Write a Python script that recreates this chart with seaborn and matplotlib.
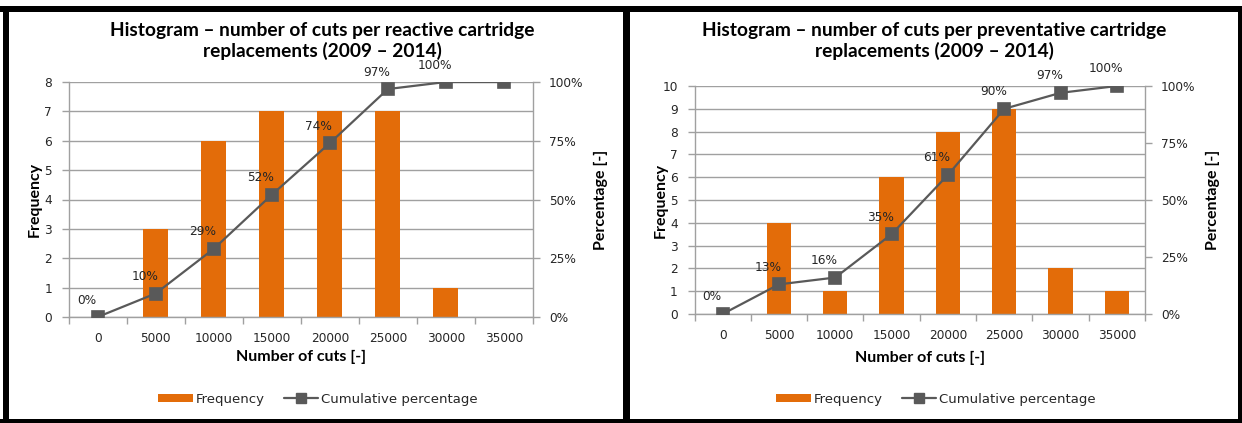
import matplotlib
matplotlib.use("Agg")
import matplotlib.pyplot as plt
import numpy as np
import pandas as pd
import seaborn as sns
from matplotlib.patches import Rectangle, Patch
from matplotlib.lines import Line2D

# Histogram bins (number of cuts) shared by both charts
cuts = [0, 5000, 10000, 15000, 20000, 25000, 30000, 35000]

# Reactive cartridge replacements
reactive_freq = [0, 3, 6, 7, 7, 7, 1, 0]
reactive_cum = [0, 10, 29, 52, 74, 97, 100, 100]

# Preventative cartridge replacements
preventive_freq = [0, 4, 1, 6, 8, 9, 2, 1]
preventive_cum = [0, 13, 16, 35, 61, 90, 97, 100]

titles = [
    "Histogram \u2013 number of cuts per reactive cartridge\nreplacements (2009 \u2013 2014)",
    "Histogram \u2013 number of cuts per preventative cartridge\nreplacements (2009 \u2013 2014)",
]
pct_ticks = [0, 25, 50, 75, 100]

sns.set_theme(style="white")
plt.rcParams["font.family"] = ["DejaVu Sans"]

W, H = 1242, 423
ORANGE = "#E36C09"
LINE = "#595959"
GRID = "#A0A0A0"
TXT = "#262626"
BOLD_FONT = ["Lato", "DejaVu Sans"]
TICK_FS = 8.7

fig = plt.figure(figsize=(W / 100, H / 100), dpi=100)
fig.patch.set_facecolor("white")


def fx(px):
    return px / W


def fy(py):
    return 1 - py / H


def panel(box, title, freq, cum, fmax, n_labels, title_xy, xlab_y, leg_xy):
    x0, y0, x1, y1 = box
    ax = fig.add_axes([fx(x0), fy(y1), fx(x1 - x0), (y1 - y0) / H])
    df = pd.DataFrame({"cuts": cuts, "freq": freq, "cum": cum})

    sns.barplot(data=df, x="cuts", y="freq", ax=ax, color=ORANGE,
                saturation=1, width=0.43, linewidth=0, zorder=2)
    ax.set_ylim(0, fmax)
    ax.set_yticks(range(0, fmax + 1))
    ax.set_axisbelow(True)
    ax.grid(axis="y", color=GRID, linewidth=1.0)
    ax.grid(axis="x", visible=False)
    for s in ["top", "right"]:
        ax.spines[s].set_visible(False)
    for s in ["left", "bottom"]:
        ax.spines[s].set_color(GRID)
        ax.spines[s].set_linewidth(1.0)
    ax.set_xticks(np.arange(-0.5, len(cuts), 1.0), minor=True)
    ax.tick_params(axis="x", which="major", length=0, pad=10.5,
                   labelsize=TICK_FS, labelcolor=TXT)
    ax.tick_params(axis="x", which="minor", length=5, color=GRID, width=1,
                   bottom=True)
    ax.tick_params(axis="y", length=5, color=GRID, width=1, left=True,
                   pad=7, labelsize=TICK_FS, labelcolor=TXT)
    ax.set_xlabel("")
    ax.set_ylabel("")

    ax2 = ax.twinx()
    sns.pointplot(data=df, x="cuts", y="cum", ax=ax2, color=LINE,
                  markers="s", markersize=8.6, linewidth=1.6, zorder=5)
    ax2.set_ylim(0, 100)
    ax2.set_yticks(pct_ticks)
    ax2.set_yticklabels([f"{t}%" for t in pct_ticks])
    ax2.grid(False)
    for s in ["top", "left", "bottom"]:
        ax2.spines[s].set_visible(False)
    ax2.spines["right"].set_color(GRID)
    ax2.spines["right"].set_linewidth(1.0)
    ax2.tick_params(axis="y", length=5, color=GRID, width=1, right=True,
                    pad=6.5, labelsize=TICK_FS, labelcolor=TXT)
    ax2.set_ylabel("")
    ax2.set_xlabel("")
    ax.set_xlim(-0.5, len(cuts) - 0.5)

    for i, v in enumerate(cum[:n_labels]):
        ax2.annotate(f"{v}%", xy=(i, v), xytext=(-11, 17),
                     textcoords="offset pixels", ha="center", va="center",
                     fontsize=TICK_FS, color=TXT, zorder=6)

    # axis titles
    ax.text(-33.6 / (x1 - x0), 0.5, "Frequency", transform=ax.transAxes,
            rotation=90, ha="center", va="center", fontsize=11.5,
            fontweight="bold", family=BOLD_FONT, color="black")
    ax.text(1 + 68 / (x1 - x0), 0.5, "Percentage [-]", transform=ax.transAxes,
            rotation=90, ha="center", va="center", fontsize=11.5,
            fontweight="bold", family=BOLD_FONT, color="black")
    fig.text(fx((x0 + x1) / 2), fy(xlab_y), "Number of cuts [-]",
             ha="center", va="center", fontsize=11.5, fontweight="bold",
             family=BOLD_FONT, color="black")
    fig.text(fx(title_xy[0]), fy(title_xy[1]), title, ha="center",
             va="center", fontsize=13.8, fontweight="bold", family=BOLD_FONT,
             color="black", linespacing=1.25)

    handles = [
        Patch(facecolor=ORANGE, edgecolor="none"),
        Line2D([], [], color=LINE, marker="s", markersize=7, linewidth=1.6),
    ]
    fig.legend(handles, ["Frequency", "Cumulative percentage"],
               loc="center", bbox_to_anchor=(fx(leg_xy[0]), fy(leg_xy[1])),
               ncol=2, frameon=False, fontsize=9.5, handlelength=2.6,
               handleheight=0.5, handletextpad=0.2, columnspacing=1.5,
               labelcolor=TXT)


panel((68.6, 82, 533, 317), titles[0], reactive_freq, reactive_cum, 8, 7,
      (322, 41), 357, (318, 399))
panel((694.5, 86, 1145, 314), titles[1], preventive_freq, preventive_cum, 10, 8,
      (934, 41), 358, (936, 399))

# black frames around the two charts
frame = [
    (0, 6, W, 6),        # top bar
    (3, 6, 6, H - 6),    # left bar
    (623, 6, 7, H - 6),  # middle divider
    (0, 419, W, 4),      # bottom bar
    (1238, 6, 4, H - 6),  # right bar
]
for (x, y, w, h) in frame:
    fig.add_artist(Rectangle((fx(x), fy(y + h)), fx(w), h / H,
                             transform=fig.transFigure, facecolor="black",
                             edgecolor="none", zorder=10))

fig.savefig("out.png", dpi=100)
